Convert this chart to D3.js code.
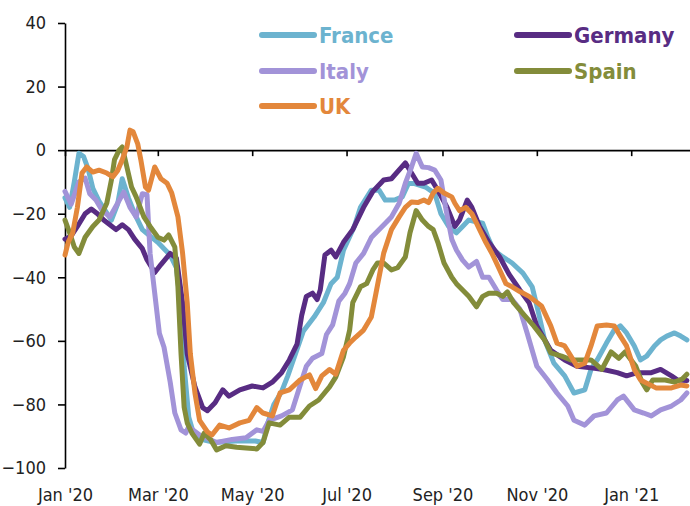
<!DOCTYPE html>
<html>
<head>
<meta charset="utf-8">
<script src="https://cdnjs.cloudflare.com/ajax/libs/d3/7.8.5/d3.min.js"></script>
<style>
  body { margin: 0; background: #fff; }
  svg text { font-family: "DejaVu Sans Condensed", "DejaVu Sans", sans-serif; }
</style>
</head>
<body>
<svg class="chart"></svg>
<script>
'use strict';

// mobility index, % change from baseline
var countries = ["France", "Germany", "Italy", "Spain", "UK"];
var colors = ["#6cb3cf", "#582c83", "#a293d8", "#838c3a", "#e3873b"];
var yTicks = [-100, -80, -60, -40, -20, 0, 20, 40];

var france = [["2020-01-01",-15],["2020-01-04",-18],["2020-01-07",-10],["2020-01-10",-1],["2020-01-13",-2],["2020-01-16",-6],["2020-01-19",-12],["2020-01-23",-16],["2020-01-27",-19],["2020-01-31",-22],["2020-02-04",-17],["2020-02-07",-9],["2020-02-11",-15],["2020-02-15",-20],["2020-02-20",-25],["2020-02-25",-27],["2020-03-01",-29],["2020-03-05",-31],["2020-03-09",-33],["2020-03-13",-37],["2020-03-16",-50],["2020-03-18",-68],["2020-03-21",-84],["2020-03-24",-89],["2020-03-29",-91],["2020-04-07",-92],["2020-04-20",-91.5],["2020-05-03",-91.5],["2020-05-08",-92],["2020-05-11",-86],["2020-05-15",-80],["2020-05-20",-76],["2020-05-24",-71],["2020-05-29",-64],["2020-06-03",-57],["2020-06-10",-52.5],["2020-06-16",-48],["2020-06-21",-42],["2020-06-25",-40],["2020-06-29",-31.5],["2020-07-06",-24],["2020-07-10",-18],["2020-07-17",-12.6],["2020-07-22",-12.6],["2020-07-26",-15.7],["2020-08-01",-15.7],["2020-08-06",-14.7],["2020-08-10",-10.5],["2020-08-14",-10.5],["2020-08-21",-11.6],["2020-08-27",-13.6],["2020-08-31",-20],["2020-09-05",-24],["2020-09-10",-26],["2020-09-14",-24],["2020-09-18",-22],["2020-09-27",-23],["2020-09-30",-27],["2020-10-04",-31.4],["2020-10-10",-33.6],["2020-10-16",-35.5],["2020-10-23",-38.7],["2020-10-29",-43],["2020-11-02",-51],["2020-11-06",-59.7],["2020-11-12",-67],["2020-11-19",-71],["2020-11-25",-76.4],["2020-12-02",-75.4],["2020-12-06",-69],["2020-12-10",-66],["2020-12-16",-60.7],["2020-12-21",-56.6],["2020-12-25",-55.3],["2020-12-29",-57.5],["2021-01-03",-61.6],["2021-01-07",-66],["2021-01-11",-64.8],["2021-01-16",-61.6],["2021-01-20",-59.7],["2021-01-24",-58.5],["2021-01-29",-57.5],["2021-02-02",-58.5],["2021-02-06",-59.7]];

var germany = [["2020-01-01",-28],["2020-01-05",-27],["2020-01-09",-24],["2020-01-14",-20],["2020-01-18",-18.5],["2020-01-22",-20],["2020-01-26",-22],["2020-01-30",-23.5],["2020-02-03",-25],["2020-02-07",-23.5],["2020-02-11",-25],["2020-02-15",-28],["2020-02-20",-31],["2020-02-23",-34.5],["2020-02-28",-38.5],["2020-03-03",-36],["2020-03-09",-32.5],["2020-03-13",-34],["2020-03-17",-48],["2020-03-20",-64],["2020-03-25",-74.5],["2020-03-30",-81],["2020-04-02",-82],["2020-04-07",-79.5],["2020-04-12",-75.4],["2020-04-16",-77.4],["2020-04-23",-75.4],["2020-05-01",-74.2],["2020-05-08",-74.8],["2020-05-14",-73],["2020-05-20",-70],["2020-05-25",-66],["2020-05-30",-61],["2020-06-02",-52],["2020-06-05",-46],["2020-06-09",-45],["2020-06-12",-47],["2020-06-14",-44],["2020-06-17",-33],["2020-06-21",-31.5],["2020-06-24",-33.6],["2020-06-29",-29],["2020-07-05",-25],["2020-07-12",-18],["2020-07-18",-13],["2020-07-25",-9.4],["2020-07-30",-9],["2020-08-08",-4],["2020-08-12",-7.2],["2020-08-16",-10.4],["2020-08-20",-10.4],["2020-08-25",-9.4],["2020-08-29",-12.6],["2020-09-04",-18],["2020-09-09",-24],["2020-09-12",-22],["2020-09-17",-15.7],["2020-09-20",-18],["2020-09-25",-24],["2020-10-01",-29],["2020-10-08",-33.6],["2020-10-14",-39],["2020-10-21",-44],["2020-10-27",-48],["2020-11-01",-55.3],["2020-11-10",-63],["2020-11-19",-66],["2020-11-27",-68],["2020-12-06",-68.5],["2020-12-14",-69],["2020-12-23",-70],["2020-12-29",-71],["2021-01-05",-70],["2021-01-14",-70],["2021-01-20",-69],["2021-01-27",-71],["2021-01-31",-72.3],["2021-02-06",-72.5]];

var italy = [["2020-01-01",-13],["2020-01-02",-14],["2020-01-05",-17],["2020-01-10",-10],["2020-01-14",-8.8],["2020-01-17",-13.7],["2020-01-21",-15.7],["2020-01-25",-19],["2020-01-30",-21],["2020-02-04",-16.7],["2020-02-08",-13.2],["2020-02-12",-18],["2020-02-16",-21],["2020-02-20",-13.7],["2020-02-23",-14],["2020-02-25",-32.5],["2020-02-28",-45],["2020-03-02",-57.6],["2020-03-05",-62],["2020-03-09",-73],["2020-03-12",-82.7],["2020-03-16",-88],["2020-03-19",-89],["2020-03-21",-87],["2020-03-28",-89.6],["2020-04-08",-92],["2020-04-18",-91],["2020-04-27",-90.5],["2020-05-04",-88],["2020-05-08",-88.5],["2020-05-12",-85],["2020-05-20",-83.6],["2020-05-27",-81.7],["2020-06-01",-74],["2020-06-05",-68],["2020-06-09",-65.5],["2020-06-15",-64],["2020-06-18",-58],["2020-06-22",-55],["2020-06-26",-47.5],["2020-06-30",-45],["2020-07-03",-42],["2020-07-07",-35.5],["2020-07-12",-32.5],["2020-07-17",-27.5],["2020-07-24",-24],["2020-07-30",-21],["2020-08-04",-16.7],["2020-08-08",-10.4],["2020-08-12",-5.3],["2020-08-15",-1],["2020-08-19",-5.3],["2020-08-23",-5.5],["2020-08-27",-6.3],["2020-08-31",-9.4],["2020-09-03",-18],["2020-09-07",-28],["2020-09-10",-31.4],["2020-09-14",-34.6],["2020-09-18",-36.8],["2020-09-23",-35],["2020-09-27",-40],["2020-10-01",-40],["2020-10-06",-44],["2020-10-10",-47],["2020-10-16",-47],["2020-10-21",-50],["2020-10-26",-58],["2020-11-01",-68],["2020-11-08",-72.3],["2020-11-14",-76.4],["2020-11-21",-80.5],["2020-11-25",-85],["2020-12-02",-86.5],["2020-12-08",-83.6],["2020-12-16",-82.7],["2020-12-23",-78.6],["2020-12-27",-77.4],["2021-01-03",-81.7],["2021-01-09",-82.7],["2021-01-14",-83.6],["2021-01-20",-81.7],["2021-01-27",-80.5],["2021-02-02",-78.6],["2021-02-06",-76.4]];

var spain = [["2020-01-01",-22],["2020-01-04",-26],["2020-01-07",-30.5],["2020-01-10",-32.5],["2020-01-14",-27.4],["2020-01-19",-24],["2020-01-23",-22],["2020-01-28",-16.7],["2020-01-31",-9.4],["2020-02-02",-3],["2020-02-05",0],["2020-02-07",1],["2020-02-10",-5.3],["2020-02-13",-11.6],["2020-02-16",-14.7],["2020-02-21",-21],["2020-02-25",-24],["2020-03-01",-27.4],["2020-03-05",-28.3],["2020-03-08",-26.7],["2020-03-12",-30.5],["2020-03-14",-43],["2020-03-16",-64],["2020-03-18",-80.8],["2020-03-20",-85.8],["2020-03-23",-89],["2020-03-28",-92.5],["2020-03-31",-89],["2020-04-04",-91],["2020-04-08",-94.3],["2020-04-14",-93],["2020-04-21",-93.5],["2020-04-27",-93.7],["2020-05-04",-94],["2020-05-08",-92],["2020-05-12",-85.8],["2020-05-19",-86.5],["2020-05-25",-84],["2020-06-01",-84],["2020-06-07",-80.5],["2020-06-13",-78.6],["2020-06-20",-74.5],["2020-06-24",-71.4],["2020-06-29",-65],["2020-07-03",-56.6],["2020-07-05",-48],["2020-07-10",-43],["2020-07-14",-42],["2020-07-18",-37.7],["2020-07-21",-35.5],["2020-07-25",-35.5],["2020-07-30",-37.7],["2020-08-03",-37],["2020-08-08",-33.6],["2020-08-11",-26],["2020-08-15",-19],["2020-08-19",-22],["2020-08-23",-24],["2020-08-26",-25],["2020-08-29",-29],["2020-09-02",-35.5],["2020-09-07",-40],["2020-09-10",-42],["2020-09-14",-44],["2020-09-18",-46],["2020-09-23",-49.3],["2020-09-27",-46],["2020-10-01",-45],["2020-10-06",-45],["2020-10-10",-46],["2020-10-13",-44.6],["2020-10-17",-48],["2020-10-24",-52],["2020-10-30",-55.3],["2020-11-06",-59.7],["2020-11-10",-63.8],["2020-11-17",-64.8],["2020-11-23",-66],["2020-12-06",-66],["2020-12-13",-69],["2020-12-19",-63.5],["2020-12-24",-65.5],["2020-12-28",-63.5],["2021-01-04",-68],["2021-01-08",-73],["2021-01-11",-75.4],["2021-01-15",-72.3],["2021-01-23",-72.3],["2021-01-29",-73],["2021-02-03",-72],["2021-02-06",-70.5]];

var uk = [["2020-01-01",-33],["2020-01-03",-29],["2020-01-06",-26],["2020-01-09",-18],["2020-01-12",-7.2],["2020-01-15",-5.3],["2020-01-19",-6.9],["2020-01-23",-6.3],["2020-01-28",-7.2],["2020-02-01",-8.4],["2020-02-04",-6.5],["2020-02-07",-3],["2020-02-10",1],["2020-02-12",6.3],["2020-02-14",5.8],["2020-02-17",2],["2020-02-19",-3],["2020-02-22",-11.6],["2020-02-24",-12.6],["2020-02-28",-5.3],["2020-03-03",-9],["2020-03-07",-10.4],["2020-03-10",-13.5],["2020-03-14",-21],["2020-03-17",-32.4],["2020-03-20",-48],["2020-03-22",-64],["2020-03-25",-76.4],["2020-03-28",-85],["2020-04-02",-88.6],["2020-04-05",-89.6],["2020-04-10",-86.5],["2020-04-16",-87.4],["2020-04-23",-85.8],["2020-04-29",-85],["2020-05-04",-81],["2020-05-08",-82.7],["2020-05-14",-83.6],["2020-05-19",-76.4],["2020-05-25",-75.4],["2020-06-01",-72.3],["2020-06-07",-70.7],["2020-06-11",-75],["2020-06-15",-71],["2020-06-20",-69],["2020-06-24",-70.5],["2020-06-29",-63],["2020-07-03",-60.7],["2020-07-07",-58.8],["2020-07-12",-56.6],["2020-07-17",-52.5],["2020-07-20",-45],["2020-07-25",-32.4],["2020-07-30",-25],["2020-08-04",-21],["2020-08-08",-18],["2020-08-12",-16.3],["2020-08-16",-16.5],["2020-08-20",-15.7],["2020-08-23",-16.5],["2020-08-26",-13.5],["2020-08-29",-12],["2020-09-02",-13.5],["2020-09-07",-14.7],["2020-09-09",-16.7],["2020-09-12",-19],["2020-09-16",-18],["2020-09-20",-20],["2020-09-25",-25],["2020-09-29",-29],["2020-10-03",-32.5],["2020-10-08",-37.7],["2020-10-12",-42],["2020-10-16",-43],["2020-10-21",-44.5],["2020-10-27",-46],["2020-11-04",-49],["2020-11-10",-55.3],["2020-11-14",-60.7],["2020-11-19",-61.6],["2020-11-23",-64.8],["2020-11-27",-68],["2020-12-02",-67],["2020-12-06",-61.6],["2020-12-10",-55.3],["2020-12-16",-55],["2020-12-21",-55.3],["2020-12-25",-58.5],["2020-12-29",-61.6],["2021-01-03",-69],["2021-01-07",-72.3],["2021-01-11",-73.3],["2021-01-17",-74.8],["2021-01-27",-74.8],["2021-02-02",-73.9],["2021-02-06",-74.2]];

var seriesData = [france, germany, italy, spain, uk];

// Generic setup
var width = 690, height = 506;
var margin = {top: 23, right: 0, bottom: 38, left: 65};

var svg = d3.select(".chart")
    .attr("width", width)
    .attr("height", height);

var parseDate = d3.timeParse("%Y-%m-%d");

var x = d3.scaleTime()
    .domain([parseDate("2020-01-01"), parseDate("2021-02-08")])
    .range([margin.left, width - margin.right]);

var y = d3.scaleLinear()
    .domain([-100, 40])
    .range([height - margin.bottom, margin.top]);

// y axis
var yAxis = svg.append("g")
    .attr("transform", "translate(" + margin.left + ",0)")
    .call(d3.axisLeft(y).tickValues(yTicks).tickSize(7).tickSizeOuter(0).tickPadding(12));

// x axis sits on the zero line, labels go under the plot
var xAxis = svg.append("g")
    .attr("transform", "translate(0," + y(0) + ")")
    .call(d3.axisBottom(x)
        .ticks(d3.timeMonth.every(2))
        .tickFormat(d3.timeFormat("%b '%y"))
        .tickSize(6)
        .tickSizeOuter(0)
        .tickPadding(y(-100) - y(0) + 14));

[yAxis, xAxis].forEach(function(g) {
    g.select(".domain").attr("stroke", "#000").attr("stroke-width", 1.6);
    g.selectAll(".tick line").attr("stroke", "#000").attr("stroke-width", 1.6);
    g.selectAll(".tick text")
        .attr("fill", "#222")
        .style("font-size", "18px")
        .style("font-family", "'DejaVu Sans Condensed', 'DejaVu Sans', sans-serif");
});

// the lines
var line = d3.line()
    .x(function(d) { return x(parseDate(d[0])); })
    .y(function(d) { return y(d[1]); });

svg.append("g")
    .selectAll("path")
    .data(seriesData)
    .enter().append("path")
    .attr("fill", "none")
    .attr("stroke", function(d, i) { return colors[i]; })
    .attr("stroke-width", 5)
    .attr("stroke-linejoin", "round")
    .attr("stroke-linecap", "round")
    .attr("d", line);

// legend, two columns
var legendPos = [[260, 35], [515, 35], [260, 71], [515, 71], [260, 106]];

var legend = svg.append("g")
    .selectAll("g")
    .data(countries)
    .enter().append("g")
    .attr("transform", function(d, i) { return "translate(" + legendPos[i][0] + "," + legendPos[i][1] + ")"; });

legend.append("line")
    .attr("x1", 2).attr("x2", 54)
    .attr("stroke", function(d, i) { return colors[i]; })
    .attr("stroke-width", 6)
    .attr("stroke-linecap", "round");

legend.append("text")
    .attr("x", 59)
    .attr("y", 8)
    .attr("fill", function(d, i) { return colors[i]; })
    .style("font-size", "22px")
    .style("font-weight", "bold")
    .text(function(d) { return d; });
</script>
</body>
</html>
